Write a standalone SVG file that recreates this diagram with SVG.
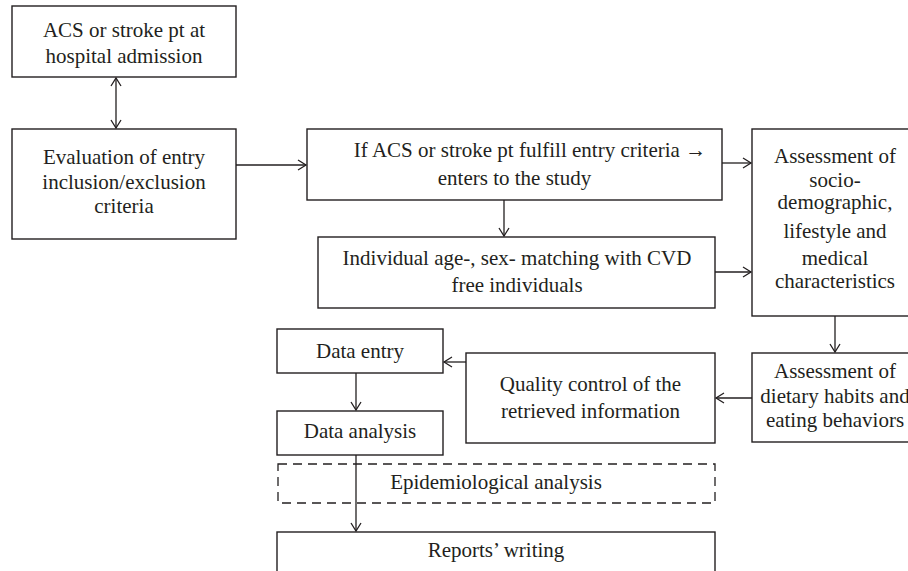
<svg xmlns="http://www.w3.org/2000/svg" width="908" height="571" viewBox="0 0 908 571">
<style>
.box{fill:#fff;stroke:#231f20;stroke-width:1.4}
.dash{fill:none;stroke:#231f20;stroke-width:1.3;stroke-dasharray:9,6}
.t{font-family:"Liberation Serif","Times New Roman",serif;font-size:21px;fill:#231f20;text-anchor:middle}
.ar{font-family:"Noto Sans",sans-serif;font-size:21px}
.c{stroke:#231f20;stroke-width:1.3;fill:none}
</style>
<defs>
<marker id="ah" markerUnits="userSpaceOnUse" markerWidth="12" markerHeight="12" refX="9" refY="6" orient="auto-start-reverse">
<path d="M1,1 L9,6 L1,11" fill="none" stroke="#231f20" stroke-width="1.3"/>
</marker>
</defs>
<rect width="908" height="571" fill="#fff"/>
<g id="connectors">
<line class="c" x1="116" y1="78" x2="116" y2="128" marker-start="url(#ah)" marker-end="url(#ah)"/>
<line class="c" x1="236" y1="165" x2="306" y2="165" marker-end="url(#ah)"/>
<line class="c" x1="722" y1="163" x2="751" y2="163" marker-end="url(#ah)"/>
<line class="c" x1="504" y1="200" x2="504" y2="236" marker-end="url(#ah)"/>
<line class="c" x1="715" y1="272" x2="751" y2="272" marker-end="url(#ah)"/>
<line class="c" x1="835" y1="316" x2="835" y2="352" marker-end="url(#ah)"/>
<line class="c" x1="752" y1="398" x2="716" y2="398" marker-end="url(#ah)"/>
<line class="c" x1="466" y1="362" x2="444" y2="362" marker-end="url(#ah)"/>
<line class="c" x1="356" y1="373" x2="356" y2="410" marker-end="url(#ah)"/>
<line class="c" x1="356" y1="455" x2="356" y2="531" marker-end="url(#ah)"/>
</g>
<g id="n1"><rect class="box" x="12" y="6" width="224" height="71"/>
<text class="t" x="124" y="37">ACS or stroke pt at</text>
<text class="t" x="124" y="63">hospital admission</text></g>
<g id="n2"><rect class="box" x="12" y="129" width="224" height="110"/>
<text class="t" x="124" y="164">Evaluation of entry</text>
<text class="t" x="124" y="189">inclusion/exclusion</text>
<text class="t" x="124" y="213">criteria</text></g>
<g id="n3"><rect class="box" x="307" y="129" width="415" height="71"/>
<text class="t" x="530" y="157">If ACS or stroke pt fulfill entry criteria <tspan class="ar">→</tspan></text>
<text class="t" x="514.5" y="185">enters to the study</text></g>
<g id="n4"><rect class="box" x="318" y="237" width="397" height="71"/>
<text class="t" x="517" y="265">Individual age-, sex- matching with CVD</text>
<text class="t" x="517" y="292">free individuals</text></g>
<g id="n5"><rect class="box" x="752" y="129" width="170" height="187"/>
<text class="t" x="835" y="163">Assessment of</text>
<text class="t" x="835" y="187">socio-</text>
<text class="t" x="835" y="209">demographic,</text>
<text class="t" x="835" y="238">lifestyle and</text>
<text class="t" x="835" y="265">medical</text>
<text class="t" x="835" y="288">characteristics</text></g>
<g id="n6"><rect class="box" x="752" y="353" width="170" height="89"/>
<text class="t" x="835" y="378">Assessment of</text>
<text class="t" x="835" y="403">dietary habits and</text>
<text class="t" x="835" y="427">eating behaviors</text></g>
<g id="n7"><rect class="box" x="466" y="353" width="249" height="90"/>
<text class="t" x="590.5" y="391">Quality control of the</text>
<text class="t" x="590.5" y="418">retrieved information</text></g>
<g id="n8"><rect class="box" x="277" y="329" width="166" height="44"/>
<text class="t" x="360" y="358">Data entry</text></g>
<g id="n9"><rect class="box" x="277" y="411" width="166" height="44"/>
<text class="t" x="360" y="438">Data analysis</text></g>
<g id="n10"><rect class="dash" x="278" y="464" width="437" height="39"/>
<text class="t" x="496" y="489">Epidemiological analysis</text></g>
<g id="n11"><rect class="box" x="277" y="532" width="438" height="50"/>
<text class="t" x="496" y="557">Reports’ writing</text></g>
</svg>
